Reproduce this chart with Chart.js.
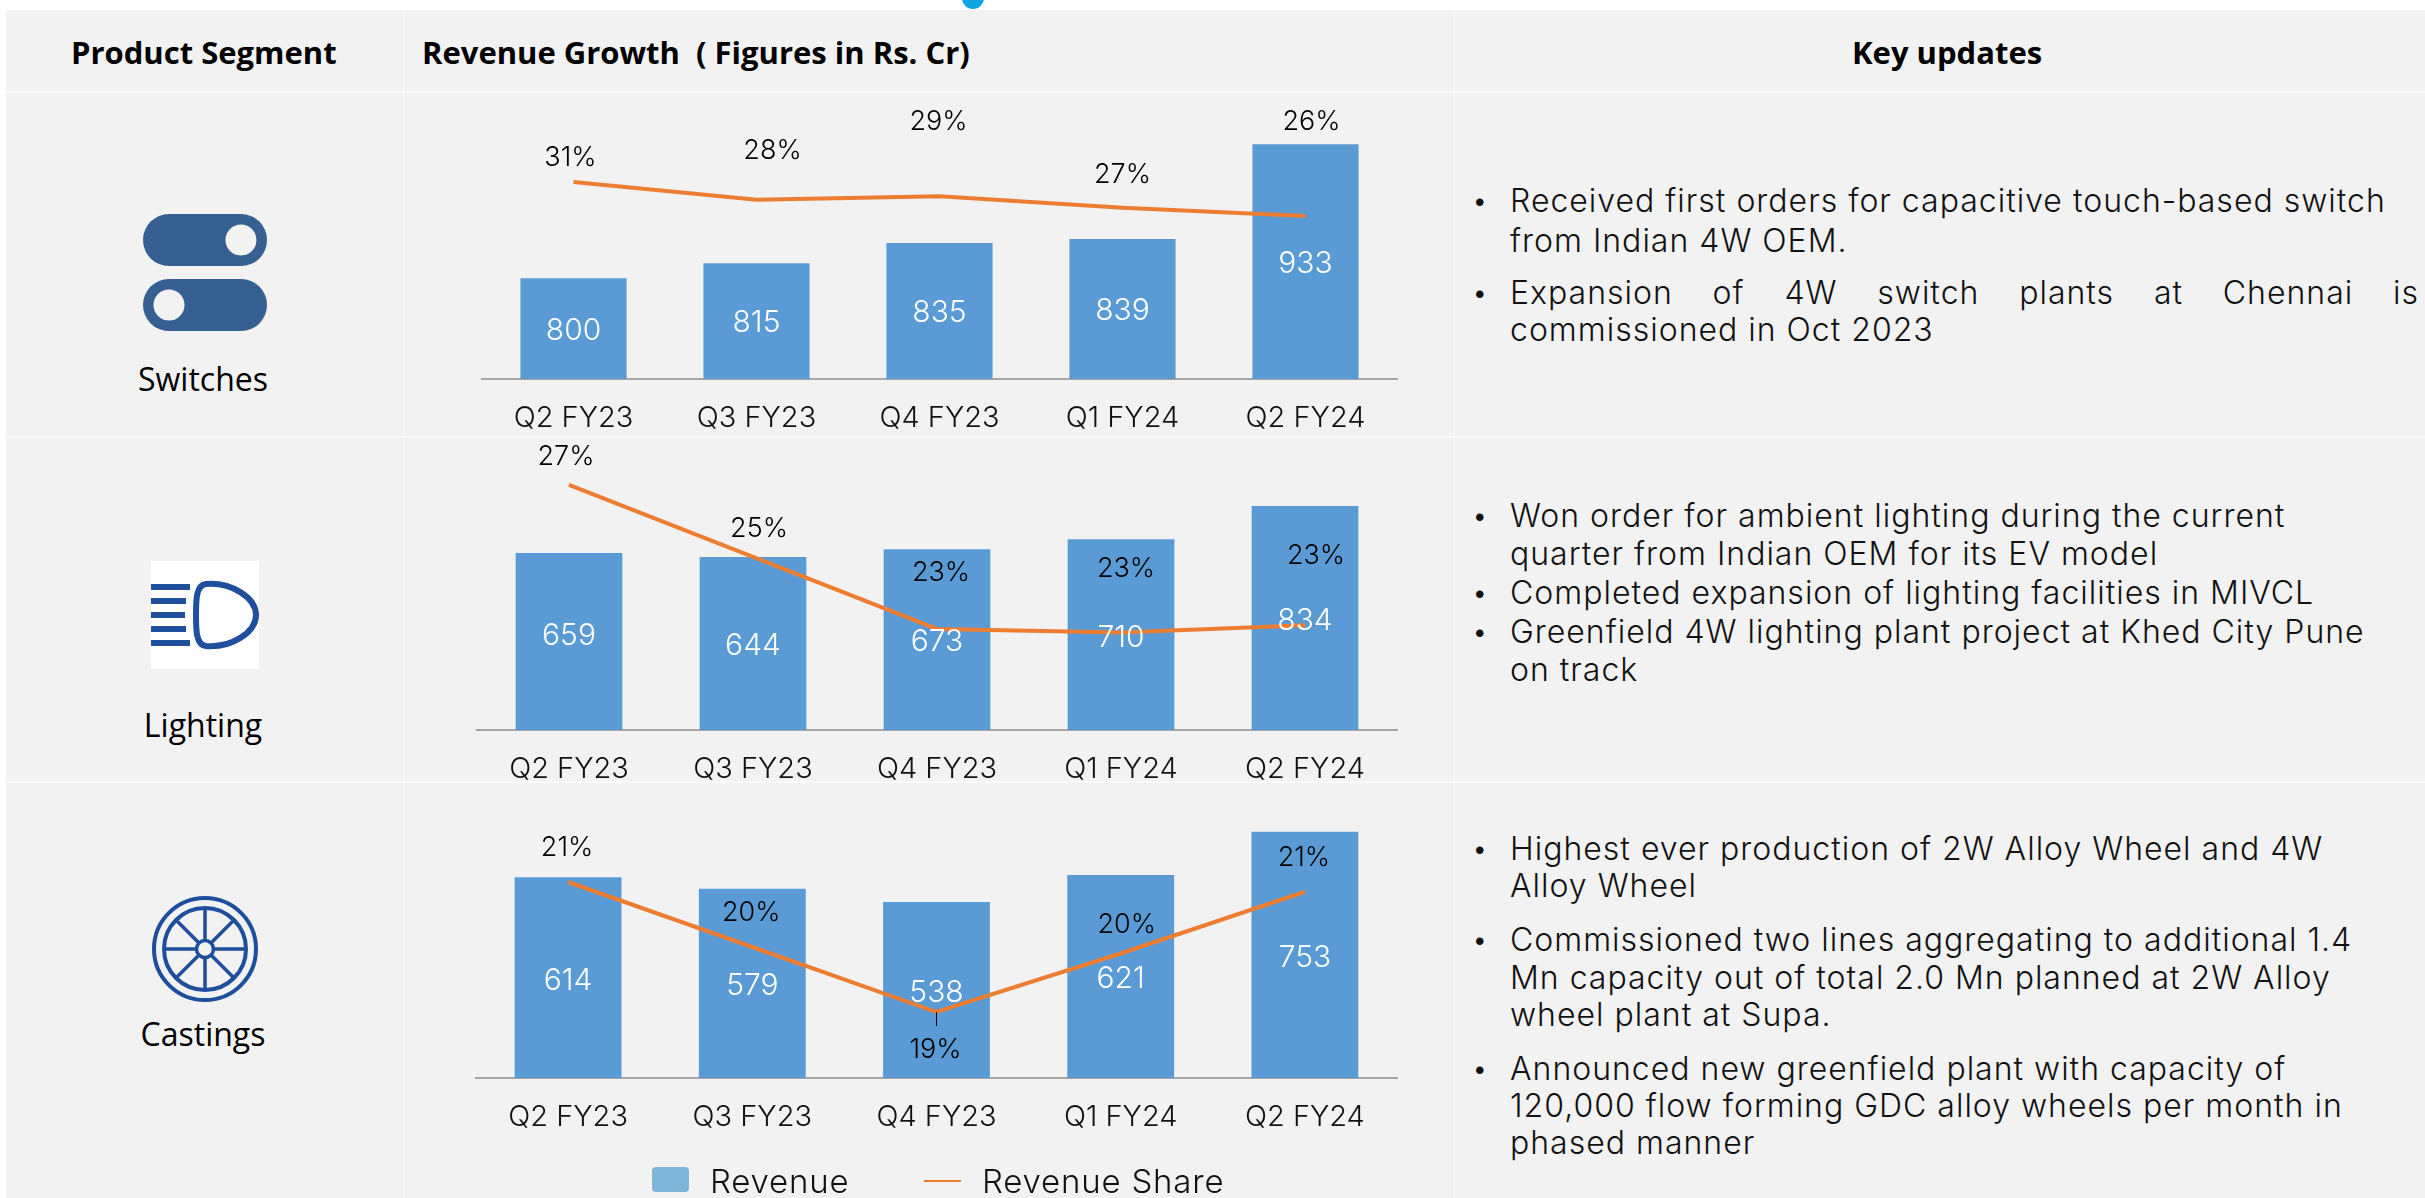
<!DOCTYPE html>
<html>
<head>
<meta charset="utf-8">
<title>Revenue Growth</title>
<script src="https://cdn.jsdelivr.net/npm/chart.js@4/dist/chart.umd.min.js"></script>
<style>
html, body { margin: 0; padding: 0; background: #ffffff; overflow: hidden; }
#page { position: relative; width: 2425px; height: 1198px; overflow: hidden; }
#panel { position: absolute; left: 6px; top: 10px; width: 2419px; height: 1188px; background: #f2f2f2; }
.rule { position: absolute; background: #fafafa; }
.head { position: absolute; font: 700 31px "Open Sans", sans-serif; color: #000; line-height: 40px; white-space: pre; }
.seg { position: absolute; width: 300px; left: 53px; text-align: center; font: 400 32px "Open Sans", sans-serif; color: #000; line-height: 40px; }
.line { position: absolute; left: 1510px; font: 300 32px Inter, sans-serif; letter-spacing: 1px; color: #111; line-height: 40px; white-space: nowrap; }
.bullet { position: absolute; left: 1473px; font: 400 24px Inter, sans-serif; color: #111; line-height: 40px; }
.legend-text { position: absolute; top: 1160px; font: 300 33px Inter, sans-serif; letter-spacing: 0.8px; color: #111; line-height: 42px; white-space: nowrap; }
.legend-mark { position: absolute; }
canvas { position: absolute; }
svg { position: absolute; left: 0; top: 0; }
</style>
</head>
<body>
<div id="page">
    <div id="panel"></div>
    <div class="rule" style="left:6px;top:91px;width:2419px;height:2px"></div>
    <div class="rule" style="left:6px;top:436px;width:2419px;height:2px"></div>
    <div class="rule" style="left:6px;top:781px;width:2419px;height:2px"></div>
    <div class="rule" style="left:403px;top:10px;width:1px;height:1188px"></div>
    <div class="rule" style="left:1454px;top:10px;width:1px;height:1188px"></div>

    <div class="head" style="left:71px;top:32px">Product Segment</div>
    <div class="head" style="left:422px;top:32px">Revenue Growth  ( Figures in Rs. Cr)</div>
    <div class="head" style="left:1852px;top:32px">Key updates</div>

    <div class="seg" style="top:359px">Switches</div>
    <div class="seg" style="top:705px">Lighting</div>
    <div class="seg" style="top:1014px">Castings</div>

    <svg width="2425" height="1198">
        <circle cx="973" cy="-2" r="11" fill="#0ea5e0"></circle>
        <rect x="143" y="214" width="124" height="52" rx="26" fill="#376092"></rect>
        <circle cx="241" cy="240" r="15.5" fill="#f2f2f2"></circle>
        <rect x="143" y="279" width="124" height="52" rx="26" fill="#376092"></rect>
        <circle cx="169" cy="305" r="15.5" fill="#f2f2f2"></circle>

        <rect x="151" y="561" width="108" height="108" fill="#ffffff"></rect>
        <g fill="#1f4e9c">
            <rect x="151" y="584" width="39" height="6"></rect>
            <rect x="151" y="598" width="35" height="6"></rect>
            <rect x="151" y="612" width="34" height="6"></rect>
            <rect x="151" y="626" width="35" height="6"></rect>
            <rect x="151" y="640" width="39" height="6"></rect>
        </g>
        <path d="M206 584 C232 582 256 598 256 615 C256 632 232 648 206 646 C196 645 196 630 196 615 C196 600 196 585 206 584 Z" fill="none" stroke="#1f4e9c" stroke-width="6"></path>

        <g fill="none" stroke="#1f4e9c">
            <circle cx="205" cy="949" r="51" stroke-width="4"></circle>
            <circle cx="205" cy="949" r="41" stroke-width="4"></circle>
            <circle cx="205" cy="949" r="8.5" stroke-width="3.5"></circle>
            <path d="M205 908V940M205 958V990M164 949H196M214 949H246M176 920L199 943M211 955L234 978M234 920L211 943M199 955L176 978" stroke-width="3.5"></path>
        </g>

        <rect class="legend-mark" x="652" y="1167" width="37" height="25" rx="4" fill="#7eb6d9"></rect>
        <line class="legend-mark" x1="924" y1="1181" x2="961" y2="1181" stroke="#ed7d31" stroke-width="2"></line>
    </svg>

    <canvas id="switchesChart" style="left:403px;top:93px" width="1051" height="344"></canvas>
    <canvas id="lightingChart" style="left:403px;top:438px" width="1051" height="344"></canvas>
    <canvas id="castingsChart" style="left:403px;top:783px" width="1051" height="415"></canvas>

    <div class="legend-text" style="left:710px">Revenue</div>
    <div class="legend-text" style="left:982px">Revenue Share</div>
</div>

<script>
var quarters = ['Q2 FY23', 'Q3 FY23', 'Q4 FY23', 'Q1 FY24', 'Q2 FY24'];

var switchesRevenue = [800, 815, 835, 839, 933];
var switchesShare = [31, 28.4, 28.9, 27.2, 26];

var lightingRevenue = [659, 644, 673, 710, 834];
var lightingShare = [27, 25, 23, 22.9, 23.1];

var castingsRevenue = [614, 579, 538, 621, 753];
var castingsShare = [21, 20, 19, 19.9, 20.85];

var keyUpdates = [
    { y: 201, bullet: true, text: 'Received first orders for capacitive touch-based switch' },
    { y: 241, text: 'from Indian 4W OEM.' },
    { y: 293, bullet: true, text: 'Expansion of 4W switch plants at Chennai is', justify: 909 },
    { y: 330, text: 'commissioned in Oct 2023' },
    { y: 516, bullet: true, text: 'Won order for ambient lighting during the current' },
    { y: 554, text: 'quarter from Indian OEM for its EV model' },
    { y: 593, bullet: true, text: 'Completed expansion of lighting facilities in MIVCL' },
    { y: 632, bullet: true, text: 'Greenfield 4W lighting plant project at Khed City Pune' },
    { y: 670, text: 'on track' },
    { y: 849, bullet: true, text: 'Highest ever production of 2W Alloy Wheel and 4W' },
    { y: 886, text: 'Alloy Wheel' },
    { y: 940, bullet: true, text: 'Commissioned two lines aggregating to additional 1.4' },
    { y: 978, text: 'Mn capacity out of total 2.0 Mn planned at 2W Alloy' },
    { y: 1015, text: 'wheel plant at Supa.' },
    { y: 1069, bullet: true, text: 'Announced new greenfield plant with capacity of' },
    { y: 1106, text: '120,000 flow forming GDC alloy wheels per month in' },
    { y: 1143, text: 'phased manner' }
];

// draws the white revenue numbers and the black share labels on top of the marks
var rowLabels = {
    id: 'rowLabels',
    afterDatasetsDraw: function(chart, args, opts) {
        var ctx = chart.ctx;
        var bars = chart.getDatasetMeta(0).data;
        var points = chart.getDatasetMeta(1).data;
        var shares = chart.data.datasets[1].data;
        var revenue = chart.data.datasets[0].data;
        var bottom = chart.chartArea.bottom;

        ctx.save();
        ctx.textAlign = 'center';
        ctx.textBaseline = 'middle';

        ctx.font = '300 30px Inter, sans-serif';
        bars.forEach(function(bar, i) {
            ctx.fillStyle = '#ffffff';
            // the switches axis does not start at zero, so stop at the visible bar foot
            ctx.fillText(revenue[i], bar.x, (bar.y + bottom) / 2 + opts.valueShift[i]);
        });

        if (opts.leader !== undefined) {
            var p = points[opts.leader];
            ctx.strokeStyle = '#000000';
            ctx.lineWidth = 1;
            ctx.beginPath();
            ctx.moveTo(p.x, p.y);
            ctx.lineTo(p.x, p.y + 14);
            ctx.stroke();
        }

        ctx.font = '300 27px Inter, sans-serif';
        points.forEach(function(point, i) {
            ctx.fillStyle = '#000000';
            ctx.fillText(Math.round(shares[i]) + '%',
                point.x + opts.shareShift[i][0],
                point.y + opts.shareShift[i][1] + 2);
        });
        ctx.restore();
    }
};

function buildRow(id, revenue, share, cfg) {
    var ctx = document.getElementById(id).getContext('2d');
    return new Chart(ctx, {
        data: {
            labels: quarters,
            datasets: [{
                type: 'bar',
                label: 'Revenue',
                data: revenue,
                backgroundColor: '#5b9bd5',
                categoryPercentage: 1,
                barPercentage: 0.58,
                yAxisID: 'y',
                order: 2
            }, {
                type: 'line',
                label: 'Revenue Share',
                data: share,
                borderColor: '#ed7d31',
                borderWidth: 4,
                pointRadius: 0,
                tension: 0,
                yAxisID: 'y1',
                order: 1
            }]
        },
        plugins: [rowLabels],
        options: {
            responsive: false,
            animation: false,
            layout: { padding: { left: cfg.left, right: 57, top: 7, bottom: 0 } },
            plugins: {
                tooltip: { enabled: false },
                legend: { display: false },
                rowLabels: {
                    valueShift: cfg.valueShift,
                    shareShift: cfg.shareShift,
                    leader: cfg.leader
                }
            },
            scales: {
                x: {
                    grid: { display: false, drawTicks: false },
                    border: { color: '#a6a6a6', width: 2 },
                    ticks: {
                        color: '#111111',
                        padding: 22,
                        maxRotation: 0,
                        font: { family: 'Inter, sans-serif', size: 29, weight: '300' }
                    },
                    afterFit: function(scale) { scale.height = cfg.axisHeight; }
                },
                y: { display: false, min: cfg.yMin, max: cfg.yMax },
                y1: { display: false, min: cfg.shareMin, max: cfg.shareMax }
            }
        }
    });
}

function addKeyUpdates() {
    var page = document.getElementById('page');
    keyUpdates.forEach(function(item) {
        var el = document.createElement('div');
        el.className = 'line';
        el.style.top = (item.y - 20) + 'px';
        el.textContent = item.text;
        if (item.justify) {
            el.style.width = item.justify + 'px';
            el.style.whiteSpace = 'normal';
            el.style.textAlign = 'justify';
            el.style.textAlignLast = 'justify';
        }
        page.appendChild(el);
        if (item.bullet) {
            var dot = document.createElement('div');
            dot.className = 'bullet';
            dot.style.top = (item.y - 20) + 'px';
            dot.textContent = '\u2022';
            page.appendChild(dot);
        }
    });
}

addKeyUpdates();

buildRow('switchesChart', switchesRevenue, switchesShare, {
    left: 79, axisHeight: 58,
    yMin: 700, yMax: 977,
    shareMin: 2.03, shareMax: 43.06,
    valueShift: [2, 2, 2, 2, 2],
    shareShift: [[-3, -26], [16, -51], [-1, -76], [0, -35], [6, -96]]
});

buildRow('lightingChart', lightingRevenue, lightingShare, {
    left: 74, axisHeight: 52,
    yMin: 0, yMax: 1061,
    shareMin: 20.19, shareMax: 28.11,
    valueShift: [-6, 2, 2, 3, 3],
    shareShift: [[-3, -30], [6, -30], [4, -58], [5, -66], [11, -71]]
});

buildRow('castingsChart', castingsRevenue, castingsShare, {
    left: 73, axisHeight: 120,
    yMin: 0, yMax: 880.7,
    shareMin: 17.985, shareMax: 22.415,
    valueShift: [3, 3, 3, 3, 3],
    shareShift: [[-1, -36], [-1, -36], [-1, 36], [6, -31], [-1, -36]],
    leader: 2
});
</script>
</body>
</html>
